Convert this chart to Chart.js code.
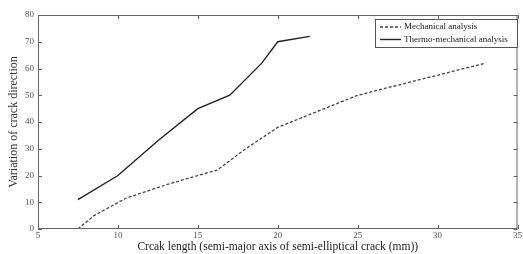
<!DOCTYPE html>
<html>
<head>
<meta charset="utf-8">
<script src="https://cdn.jsdelivr.net/npm/chart.js@4"></script>
<style>
  html, body { margin: 0; padding: 0; background: #fff; }
  #wrap { width: 523px; height: 254px; }
</style>
</head>
<body>
<div id="wrap"><canvas id="crackChart" width="523" height="254"></canvas></div>
<script>
// data
const mechX = [7.5, 8.5, 10.5, 13, 15, 16.2, 18, 20, 22.5, 25, 29, 33];
const mechY = [0, 5, 11.5, 16.5, 20, 22, 30, 38, 44, 50, 56, 62];
const thermoX = [7.5, 10, 12.5, 15, 17, 19, 20, 22];
const thermoY = [11, 20, 33, 45, 50, 62, 70, 72];
const seriesLabels = ['Mechanical analysis', 'Thermo-mechanical analysis'];
const xTitle = 'Crcak length (semi-major axis of semi-elliptical crack (mm))';
const yTitle = 'Variation of crack direction';

const serif = "'Liberation Serif', 'DejaVu Serif', serif";
const axisColor = '#666';

const toPoints = (xs, ys) => xs.map((x, i) => ({ x: x, y: ys[i] }));

// frame, inward ticks and the boxed legend
const framePlugin = {
    id: 'frame',
    afterDraw(chart) {
        const ctx = chart.ctx;
        const a = chart.chartArea;
        const sx = chart.scales.x, sy = chart.scales.y;
        ctx.save();
        ctx.strokeStyle = axisColor;
        ctx.lineWidth = 1;
        ctx.strokeRect(a.left + 0.5, a.top + 0.5, a.right - a.left - 1, a.bottom - a.top - 1);
        ctx.beginPath();
        sx.ticks.forEach(t => {
            const px = Math.round(sx.getPixelForValue(t.value)) + 0.5;
            ctx.moveTo(px, a.bottom); ctx.lineTo(px, a.bottom - 4);
            ctx.moveTo(px, a.top); ctx.lineTo(px, a.top + 4);
        });
        sy.ticks.forEach(t => {
            const py = Math.round(sy.getPixelForValue(t.value)) + 0.5;
            ctx.moveTo(a.left, py); ctx.lineTo(a.left + 4, py);
            ctx.moveTo(a.right, py); ctx.lineTo(a.right - 4, py);
        });
        ctx.stroke();

        // legend
        const bx = 375, by = 19, bw = 142, bh = 28;
        ctx.fillStyle = '#fff';
        ctx.fillRect(bx, by, bw, bh);
        ctx.strokeStyle = '#555';
        ctx.strokeRect(bx + 0.5, by + 0.5, bw, bh);
        ctx.font = '9px ' + serif;
        ctx.textBaseline = 'middle';
        chart.data.datasets.forEach((ds, i) => {
            const y = by + 8 + i * 12.5;
            ctx.strokeStyle = ds.borderColor;
            ctx.lineWidth = ds.borderWidth;
            ctx.setLineDash(ds.borderDash || []);
            ctx.beginPath();
            ctx.moveTo(bx + 5, y); ctx.lineTo(bx + 26, y);
            ctx.stroke();
            ctx.setLineDash([]);
            ctx.fillStyle = '#222';
            ctx.fillText(ds.label, bx + 29, y);
        });
        ctx.restore();
    }
};

new Chart(document.getElementById('crackChart').getContext('2d'), {
    type: 'line',
    data: {
        datasets: [{
                label: seriesLabels[0],
                data: toPoints(mechX, mechY),
                borderColor: '#444',
                borderWidth: 1.3,
                borderDash: [3, 2],
                pointRadius: 0,
                tension: 0,
                fill: false
            },
            {
                label: seriesLabels[1],
                data: toPoints(thermoX, thermoY),
                borderColor: '#222',
                borderWidth: 1.4,
                pointRadius: 0,
                tension: 0,
                fill: false
            }
        ]
    },
    options: {
        responsive: false,
        animation: false,
        layout: { padding: { top: 15, right: 3, left: 0, bottom: 0 } },
        plugins: {
            legend: { display: false },
            tooltip: { enabled: false }
        },
        scales: {
            x: {
                type: 'linear',
                min: 5,
                max: 35,
                afterFit: s => { s.height = 25; },
                border: { display: false },
                grid: { drawOnChartArea: false, drawTicks: false },
                ticks: {
                    stepSize: 5,
                    padding: 1,
                    color: '#555',
                    font: { family: serif, size: 9 }
                },
                title: {
                    display: true,
                    text: xTitle,
                    color: '#222',
                    padding: { top: 0, bottom: 0 },
                    font: { family: serif, size: 11.5 }
                }
            },
            y: {
                min: 0,
                max: 80,
                afterFit: s => { s.width = 38; },
                border: { display: false },
                grid: { drawOnChartArea: false, drawTicks: false },
                ticks: {
                    stepSize: 10,
                    padding: 4,
                    color: '#555',
                    font: { family: serif, size: 9 }
                },
                title: {
                    display: true,
                    text: yTitle,
                    color: '#333',
                    padding: { top: 7, bottom: 0 },
                    font: { family: serif, size: 12 }
                }
            }
        }
    },
    plugins: [framePlugin]
});
</script>
</body>
</html>
